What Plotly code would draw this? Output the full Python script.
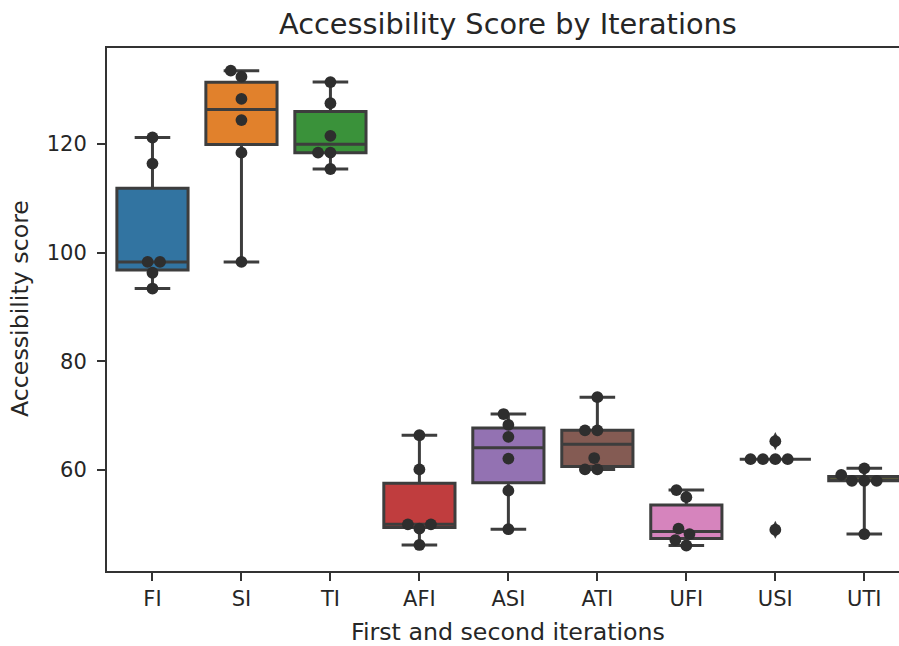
import math
import numpy as np
import plotly.graph_objects as go

# ---------------- data ----------------
categories = ["FI", "SI", "TI", "AFI", "ASI", "ATI", "UFI", "USI", "UTI"]
fi = [93.4, 96.3, 98.3, 98.3, 116.4, 121.2]
si = [98.3, 118.4, 124.4, 128.3, 132.4, 133.5]
ti = [115.4, 118.4, 118.4, 121.5, 127.5, 131.4]
afi = [46.2, 49.2, 50.0, 50.0, 60.1, 66.4]
asi = [49.1, 56.2, 62.1, 66.1, 68.3, 70.3]
ati = [60.1, 60.1, 62.2, 67.3, 67.3, 73.4]
ufi = [46.1, 47.1, 48.2, 49.2, 55.0, 56.3]
usi = [49.0, 62.0, 62.0, 62.0, 62.0, 65.3]
uti = [48.2, 58.0, 58.0, 58.0, 59.1, 60.3]
values = [fi, si, ti, afi, asi, ati, ufi, usi, uti]
fliers = {"USI": [49.0, 65.3]}

colors = ["#3274a1", "#e1812c", "#3a923a", "#c03d3e", "#9372b2",
          "#845b53", "#d684bd", "#7f7f7f", "#a9aa35"]
y_ticks = [60, 80, 100, 120]

title = "Accessibility Score by Iterations"
x_title = "First and second iterations"
y_title = "Accessibility score"

# ---------------- layout geometry ----------------
W, H = 899, 646
ML, MR, MT, MB = 107, 0, 48, 75
XR = [-0.511, 8.39]
YR = [41.41, 137.67]
PW, PH = W - ML - MR, H - MT - MB
PX_X = PW / (XR[1] - XR[0])
PX_Y = PH / (YR[1] - YR[0])
R = 5.9  # swarm point radius in px

LINE = "#3d3d3d"
DOT = "#2e2e2e"
TXT = "#262626"
FONT = "DejaVu Sans"


def beeswarm(vals, r):
    """seaborn-like beeswarm; returns (offsets in px, sorted values)."""
    ys = sorted(vals)
    placed = []  # (x, y) in px
    for v in ys:
        y = v * PX_Y
        neigh = []
        for xj, yj in reversed(placed):
            if (y - yj) < 2 * r:
                neigh.append((xj, yj))
            else:
                break
        neigh = neigh[::-1]
        cands = [0.0]
        left_first = True
        for xj, yj in neigh:
            dy = y - yj
            dx = math.sqrt(max((2 * r) ** 2 - dy ** 2, 0)) * 1.05
            cl, cr = xj - dx, xj + dx
            cands += [cl, cr] if left_first else [cr, cl]
            left_first = not left_first
        order = sorted(range(len(cands)), key=lambda k: abs(cands[k]))
        chosen = 0.0
        if neigh:
            for k in order:
                c = cands[k]
                if all((c - xj) ** 2 + (y - yj) ** 2 >= (2 * r) ** 2 - 1e-9
                       for xj, yj in neigh):
                    chosen = c
                    break
        placed.append((chosen, y))
    return [p[0] for p in placed], ys


fig = go.Figure()

# boxes
for i, (cat, vals, col) in enumerate(zip(categories, values, colors)):
    arr = np.array(vals)
    q1, med, q3 = np.percentile(arr, [25, 50, 75])
    fl = fliers.get(cat, [])
    inner = [v for v in vals if v not in fl]
    fig.add_trace(go.Box(
        x=[i], q1=[q1], median=[med], q3=[q3],
        lowerfence=[min(inner)], upperfence=[max(inner)],
        width=0.8, whiskerwidth=0.5, fillcolor=col,
        line=dict(color=LINE, width=3), boxpoints=False,
        showlegend=False, hoverinfo="skip"))
    if fl:
        fig.add_trace(go.Scatter(
            x=[i] * len(fl), y=fl, mode="markers",
            marker=dict(symbol="diamond-tall", size=13, color=LINE,
                        line=dict(width=0)),
            showlegend=False, hoverinfo="skip"))

# swarm points
for i, vals in enumerate(values):
    offs, ys = beeswarm(vals, R)
    fig.add_trace(go.Scatter(
        x=[i + o / PX_X for o in offs], y=ys, mode="markers",
        marker=dict(size=2 * R, color=DOT, line=dict(width=0)),
        showlegend=False, hoverinfo="skip"))

axis_common = dict(showline=True, linecolor="#333333", linewidth=2,
                   ticks="outside", ticklen=8, tickwidth=2, tickcolor="#333333",
                   showgrid=False, zeroline=False,
                   tickfont=dict(family=FONT, size=21, color=TXT))

fig.update_layout(
    width=W, height=H,
    margin=dict(l=ML, r=MR, t=MT, b=MB, autoexpand=False),
    paper_bgcolor="white", plot_bgcolor="white",
    xaxis=dict(range=XR, tickmode="array", tickvals=list(range(len(categories))),
               ticktext=categories, mirror=True, **axis_common),
    yaxis=dict(range=YR, tickmode="array", tickvals=y_ticks, mirror=False,
               ticklabelstandoff=6, **axis_common),
    annotations=[
        dict(text=title, xref="paper", yref="paper",
             x=(508 - ML) / PW, y=1 + (MT - 24) / PH,
             xanchor="center", yanchor="middle", showarrow=False,
             font=dict(family=FONT, size=28.8, color=TXT)),
        dict(text=x_title, xref="paper", yref="paper",
             x=(508 - ML) / PW, y=-(632 - (H - MB)) / PH,
             xanchor="center", yanchor="middle", showarrow=False,
             font=dict(family=FONT, size=23.7, color=TXT)),
        dict(text=y_title, xref="paper", yref="paper",
             x=(20 - ML) / PW, y=((H - MB) - 309) / PH, textangle=-90,
             xanchor="center", yanchor="middle", showarrow=False,
             font=dict(family=FONT, size=23.7, color=TXT)),
    ],
)

fig.write_html("out.html")
